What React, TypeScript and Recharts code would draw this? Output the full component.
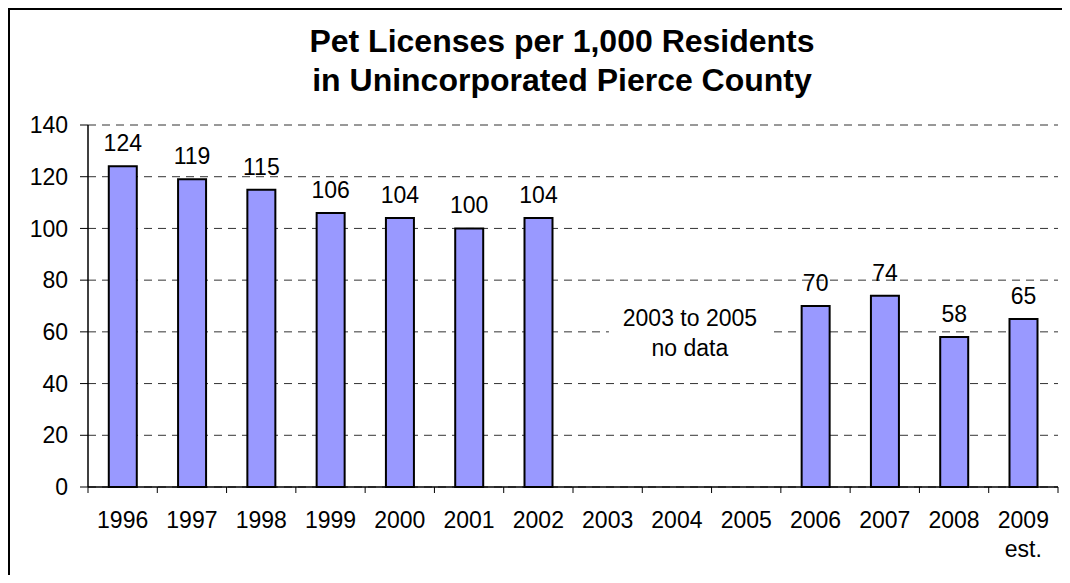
import React from 'react'
import {
  BarChart,
  Bar,
  XAxis,
  YAxis,
  CartesianGrid,
  LabelList,
  ReferenceDot
} from 'recharts'

// chart values
const years = ['1996', '1997', '1998', '1999', '2000', '2001', '2002', '2003', '2004', '2005', '2006', '2007', '2008', '2009']
const yearNotes = ['', '', '', '', '', '', '', '', '', '', '', '', '', 'est.']
const licenses = [124, 119, 115, 106, 104, 100, 104, null, null, null, 70, 74, 58, 65]
const yTicks = [0, 20, 40, 60, 80, 100, 120, 140]
const noDataLines = ['2003 to 2005', 'no data']
const noDataYear = '2004'
const noDataLevel = 60

const FONT = '"Liberation Sans", Arial, sans-serif'
const FS = 23

const data = years.map((year, i) => ({
  year,
  note: yearNotes[i],
  value: licenses[i]
}))

function YearTick(props: any) {
  const { x, y, payload, index, visibleTicksCount, width } = props
  const half = payload && payload.offset > 0 ? payload.offset : width / visibleTicksCount / 2
  const note = yearNotes[index]
  return (
    <g>
      <line x1={x - half} y1={y} x2={x - half} y2={y + 6} stroke="#000" strokeWidth={1} />
      {index === visibleTicksCount - 1 && (
        <line x1={x + half} y1={y} x2={x + half} y2={y + 6} stroke="#000" strokeWidth={1} />
      )}
      <text x={x} y={y + 41} textAnchor="middle" style={{ fontSize: FS, fontFamily: FONT }} fill="#000">
        {payload.value}
      </text>
      {note && (
        <text x={x} y={y + 70} textAnchor="middle" style={{ fontSize: FS, fontFamily: FONT }} fill="#000">
          {note}
        </text>
      )}
    </g>
  )
}

function NoDataNote(props: any) {
  const { cx, cy } = props
  const tx = cx + 13
  return (
    <g>
      <rect x={cx - 68} y={cy - 33} width={162} height={64} fill="#fff" />
      <text x={tx} y={cy - 6} textAnchor="middle" style={{ fontSize: FS, fontFamily: FONT }} fill="#000">
        {noDataLines[0]}
      </text>
      <text x={tx} y={cy + 24} textAnchor="middle" style={{ fontSize: FS, fontFamily: FONT }} fill="#000">
        {noDataLines[1]}
      </text>
    </g>
  )
}

export default function App() {
  return (
    <div
      style={{
        position: 'relative',
        width: 1052,
        height: 565,
        borderTop: '2px solid #000',
        borderLeft: '2px solid #000',
        overflow: 'hidden',
        background: '#fff',
        fontFamily: FONT
      }}
    >
      <div
        style={{
          position: 'absolute',
          top: 12,
          left: 0,
          width: 1052,
          boxSizing: 'border-box',
          paddingLeft: 52,
          textAlign: 'center',
          fontSize: 32,
          fontWeight: 'bold',
          lineHeight: '39px',
          color: '#000'
        }}
      >
        Pet Licenses per 1,000 Residents
        <br />
        in Unincorporated Pierce County
      </div>

      <BarChart
        width={1052}
        height={565}
        data={data}
        margin={{ top: 115, right: 4, left: 8, bottom: 28 }}
        barCategoryGap="30%"
      >
        <CartesianGrid vertical={false} stroke="#333" strokeDasharray="8 6" />
        <XAxis
          dataKey="year"
          height={60}
          axisLine={{ stroke: '#000', strokeWidth: 1.5 }}
          tickLine={false}
          tickSize={0}
          tickMargin={0}
          interval={0}
          tick={<YearTick />}
        />
        <XAxis
          xAxisId="top"
          dataKey="year"
          orientation="top"
          height={0}
          tick={false}
          tickLine={false}
          axisLine={{ stroke: '#808080', strokeWidth: 2.5 }}
        />
        <YAxis
          domain={[0, 140]}
          ticks={yTicks}
          width={70}
          interval={0}
          axisLine={{ stroke: '#000', strokeWidth: 1.5 }}
          tickLine={{ stroke: '#000' }}
          tickSize={8}
          tickMargin={12}
          tick={{ fontSize: FS, fontFamily: FONT, fill: '#000', style: { fontSize: FS } }}
        />
        <YAxis
          yAxisId="right"
          orientation="right"
          width={0}
          tick={false}
          tickLine={false}
          axisLine={{ stroke: '#808080', strokeWidth: 2.5 }}
        />
        <Bar dataKey="value" fill="#9999FF" stroke="#000" strokeWidth={2} isAnimationActive={false}>
          <LabelList
            dataKey="value"
            position="top"
            offset={15}
            fill="#000"
            style={{ fontSize: FS, fontFamily: FONT }}
            formatter={(v: any) => (v == null ? '' : v)}
          />
        </Bar>
        <ReferenceDot x={noDataYear} y={noDataLevel} r={0} shape={<NoDataNote />} ifOverflow="visible" />
      </BarChart>
    </div>
  )
}
